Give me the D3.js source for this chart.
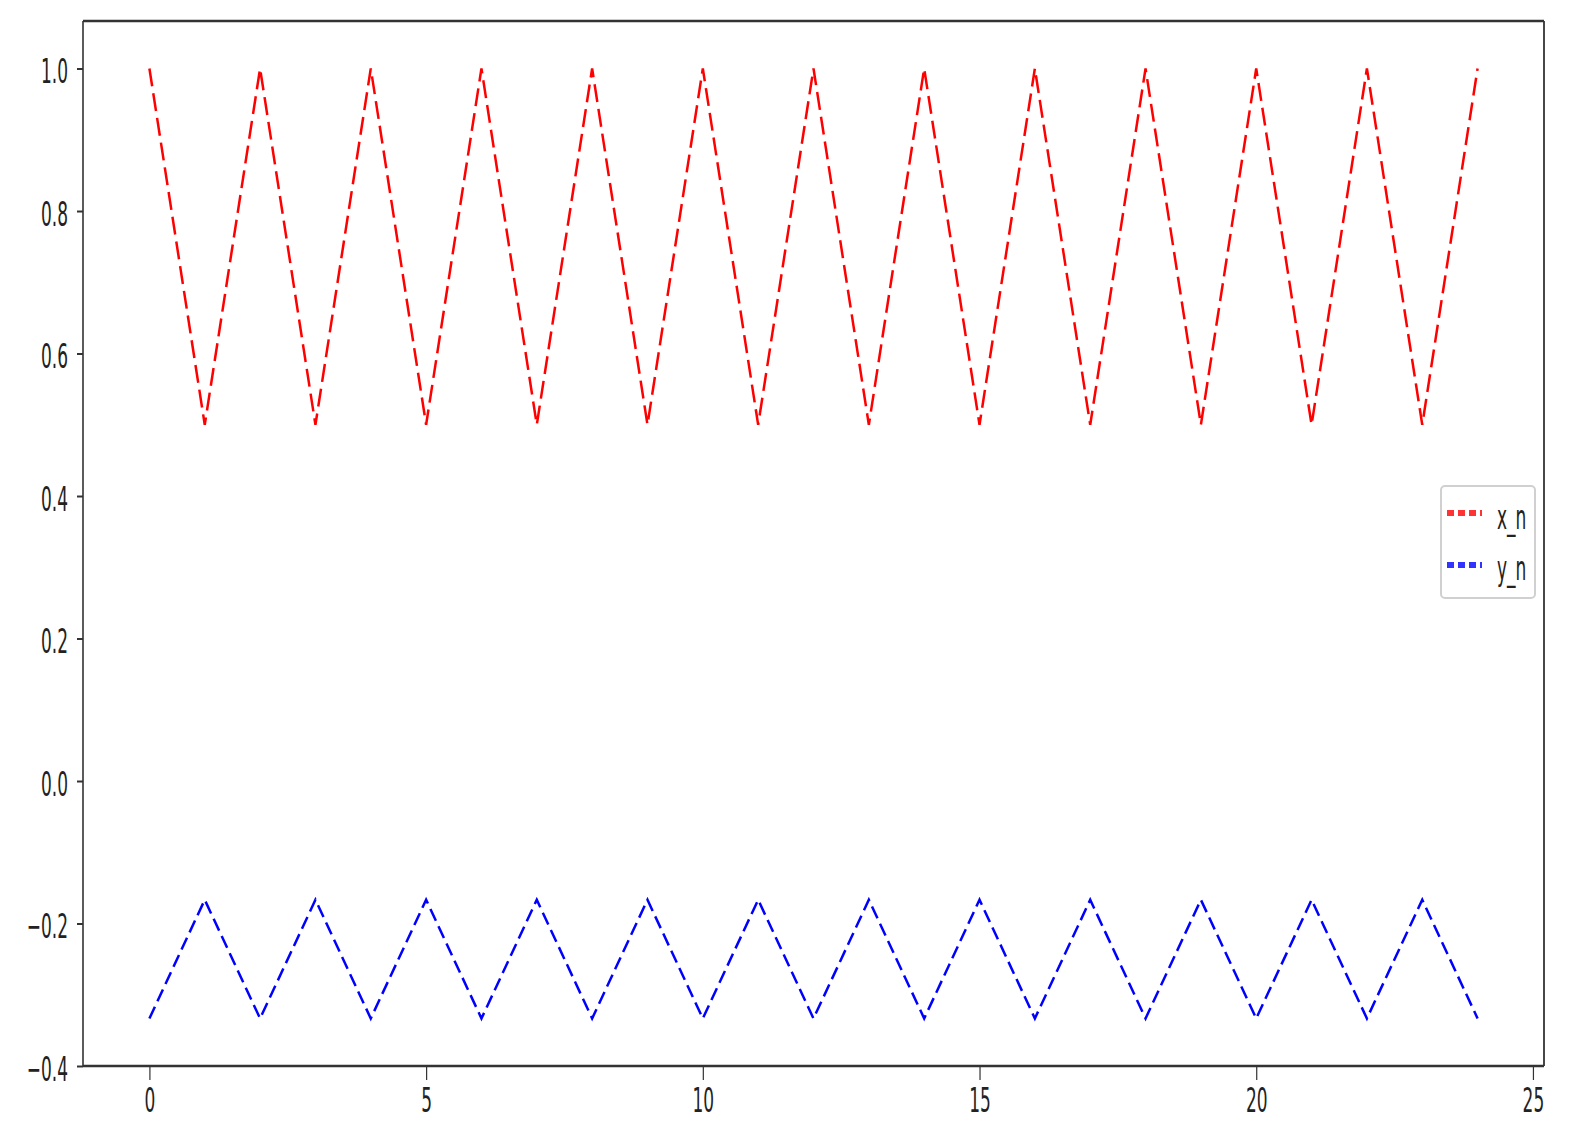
<!DOCTYPE html>
<html>
<head>
<meta charset="utf-8">
<script src="https://cdn.jsdelivr.net/npm/d3@7"></script>
<style>
  html, body { margin: 0; padding: 0; background: #fff; }
  svg { display: block; }
  text { font-family: "DejaVu Sans", sans-serif; fill: #222; }
</style>
</head>
<body>
<svg id="chart" width="1580" height="1139"></svg>
<script>
const steps = [0,1,2,3,4,5,6,7,8,9,10,11,12,13,14,15,16,17,18,19,20,21,22,23,24];
const xn = [1.0,0.5,1.0,0.5,1.0,0.5,1.0,0.5,1.0,0.5,1.0,0.5,1.0,0.5,1.0,0.5,1.0,0.5,1.0,0.5,1.0,0.5,1.0,0.5,1.0];
const yn = [-0.3333,-0.1667,-0.3333,-0.1667,-0.3333,-0.1667,-0.3333,-0.1667,-0.3333,-0.1667,-0.3333,-0.1667,-0.3333,-0.1667,-0.3333,-0.1667,-0.3333,-0.1667,-0.3333,-0.1667,-0.3333,-0.1667,-0.3333,-0.1667,-0.3333];
const seriesNames = ["x_n", "y_n"];
const seriesColors = ["#ff0000", "#0000ff"];
const xTickValues = [0, 5, 10, 15, 20, 25];
const yTickValues = [-0.4, -0.2, 0.0, 0.2, 0.4, 0.6, 0.8, 1.0];

const L = 83, R = 1544, T = 21, B = 1066;
const svg = d3.select("#chart");

const x = d3.scaleLinear().domain([-1.2, 25.2]).range([L, R]);
const y = d3.scaleLinear().domain([-0.4, 1.0667]).range([B, T]);

const series = [xn, yn];
const dashes = ["18,7", "13,6"];
const line = d3.line().x((d, i) => x(steps[i])).y(d => y(d));

series.forEach((s, k) => {
  svg.append("path")
    .datum(s)
    .attr("d", line)
    .attr("fill", "none")
    .attr("stroke", seriesColors[k])
    .attr("stroke-width", 2.5)
    .attr("stroke-dasharray", dashes[k]);
});

// axes
const fmt = d3.format(".1f");
const xAxis = d3.axisBottom(x).tickValues(xTickValues).tickSize(14).tickSizeOuter(0).tickFormat(d3.format("d"));
const gx = svg.append("g").attr("transform", `translate(0,${B})`).call(xAxis);
gx.select(".domain").remove();
gx.selectAll(".tick line").attr("stroke", "#333").attr("stroke-width", 1.2);
gx.selectAll(".tick text")
  .attr("x", null).attr("y", null).attr("dy", null)
  .attr("font-size", 34)
  .attr("font-family", "DejaVu Sans")
  .attr("fill", "#222")
  .attr("text-anchor", "middle")
  .attr("transform", "translate(0,46) scale(0.5,1)");

const yAxis = d3.axisLeft(y).tickValues(yTickValues).tickSize(6).tickSizeOuter(0).tickFormat(fmt);
const gy = svg.append("g").attr("transform", `translate(${L},0)`).call(yAxis);
gy.select(".domain").remove();
gy.selectAll(".tick line").attr("stroke", "#333").attr("stroke-width", 2);
gy.selectAll(".tick text")
  .attr("x", null).attr("y", null).attr("dy", null)
  .attr("font-size", 34)
  .attr("font-family", "DejaVu Sans")
  .attr("fill", "#222")
  .attr("text-anchor", "end")
  .attr("transform", "translate(-15,14) scale(0.5,1)");

// spines
svg.append("line").attr("x1", L).attr("x2", R).attr("y1", T).attr("y2", T).attr("stroke", "#333").attr("stroke-width", 2.6);
svg.append("line").attr("x1", L).attr("x2", R).attr("y1", B).attr("y2", B).attr("stroke", "#333").attr("stroke-width", 2.6);
svg.append("line").attr("x1", L).attr("x2", L).attr("y1", T).attr("y2", B).attr("stroke", "#333").attr("stroke-width", 1.6);
svg.append("line").attr("x1", R).attr("x2", R).attr("y1", T).attr("y2", B).attr("stroke", "#333").attr("stroke-width", 1.8);

// legend
const lg = svg.append("g");
lg.append("rect").attr("x", 1441).attr("y", 486).attr("width", 94).attr("height", 112)
  .attr("rx", 4).attr("fill", "#fff").attr("fill-opacity", 0.8)
  .attr("stroke", "#d0d0d0").attr("stroke-width", 2);
const legY = [513, 565];
const legBase = [529, 580];
seriesNames.forEach((n, k) => {
  lg.append("line").attr("x1", 1447).attr("x2", 1482).attr("y1", legY[k]).attr("y2", legY[k])
    .attr("stroke", seriesColors[k]).attr("stroke-opacity", 0.8).attr("stroke-width", 6).attr("stroke-dasharray", "7,4");
  lg.append("text").text(n)
    .attr("font-size", 34)
    .attr("transform", `translate(1497,${legBase[k]}) scale(0.5,1)`);
});
</script>
</body>
</html>
